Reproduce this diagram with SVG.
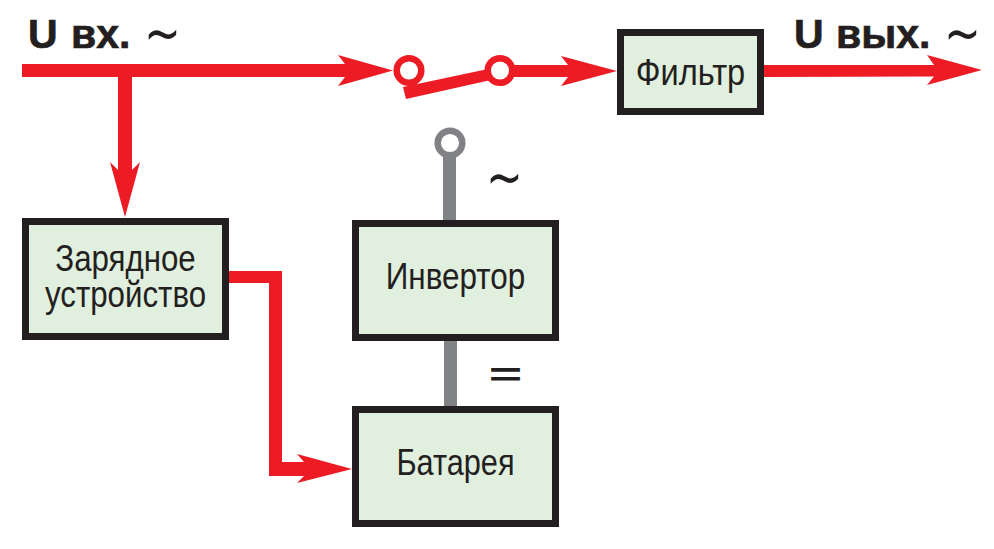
<svg xmlns="http://www.w3.org/2000/svg" width="994" height="549" viewBox="0 0 994 549">
<style>
.box{fill:#e1efdf;stroke:#231f20;stroke-width:7}
.red{fill:#ed1c24}
.gray{fill:#808285}
.lbl{font-family:"Liberation Sans",Arial,sans-serif;font-size:37px;fill:#231f20;text-anchor:middle}
.big{font-family:"Liberation Sans",Arial,sans-serif;font-weight:700;font-size:41px;fill:#231f20;stroke:#231f20;stroke-width:.7}
.tilde{font-family:"DejaVu Sans",sans-serif;font-size:44px;fill:#231f20}
.eq{font-family:"Liberation Sans",Arial,sans-serif;font-weight:700;font-size:41px;fill:#231f20;text-anchor:middle}
.ring-r{fill:#fff;stroke:#ed1c24;stroke-width:6.5}
.ring-g{fill:#fff;stroke:#808285;stroke-width:6.5}
</style>
<rect width="994" height="549" fill="#fff"/>
<g id="connectors">
<path class="red" d="M22 64H345L338 55L393 70.500L338 86L345 77H22Z"/>
<path class="red" d="M118 77H132V170L140 162L125 217L110 162L118 170Z"/>
<path class="red" d="M403 87L488 69L491 80L406 99Z"/>
<path class="red" d="M505 65H568L561 56L617 71L561 86L568 77H505Z"/>
<path class="red" d="M764 65H934L927 55L982 70L927 85L934 76.500L764 77Z"/>
<path class="red" d="M229 271H282V462H304L297 454L352 469L297 483L304 476H269V283H229Z"/>
<rect class="gray" x="443" y="150" width="13" height="72"/>
<rect class="gray" x="444" y="339" width="13" height="69"/>
<circle class="ring-r" cx="409" cy="70.500" r="12.300"/>
<circle class="ring-r" cx="500" cy="70.500" r="12.300"/>
<circle class="ring-g" cx="450" cy="143" r="12.300"/>
</g>
<g id="label-in"><text class="big" x="28" y="48">U</text><text class="big" x="71" y="48">вх.</text><text class="tilde" transform="translate(144 53) scale(1 1.3)">~</text></g>
<g id="label-out"><text class="big" x="794" y="48">U</text><text class="big" x="836" y="48">вых.</text><text class="tilde" transform="translate(944 53) scale(1 1.3)">~</text></g>
<g id="node-filter"><rect class="box" x="620.500" y="32.500" width="140" height="79"/><text class="lbl" transform="translate(690.500 85) scale(.88 1)">Фильтр</text></g>
<g id="node-charger"><rect class="box" x="25.500" y="221.500" width="200" height="115"/><text class="lbl" transform="translate(125.500 271) scale(.845 1)"><tspan x="0" y="0">Зарядное</tspan><tspan x="0" y="36">устройство</tspan></text></g>
<g id="node-inverter"><rect class="box" x="355.500" y="223.500" width="200" height="114"/><text class="lbl" transform="translate(455.500 289) scale(.85 1)">Инвертор</text></g>
<g id="node-battery"><rect class="box" x="355.500" y="409.500" width="200" height="114"/><text class="lbl" transform="translate(455.500 475) scale(.83 1)">Батарея</text></g>
<g id="symbols"><text class="tilde" transform="translate(486 197) scale(1 1.3)">~</text><text class="eq" transform="translate(505.500 386) scale(1.4 .8)">=</text></g>
</svg>
